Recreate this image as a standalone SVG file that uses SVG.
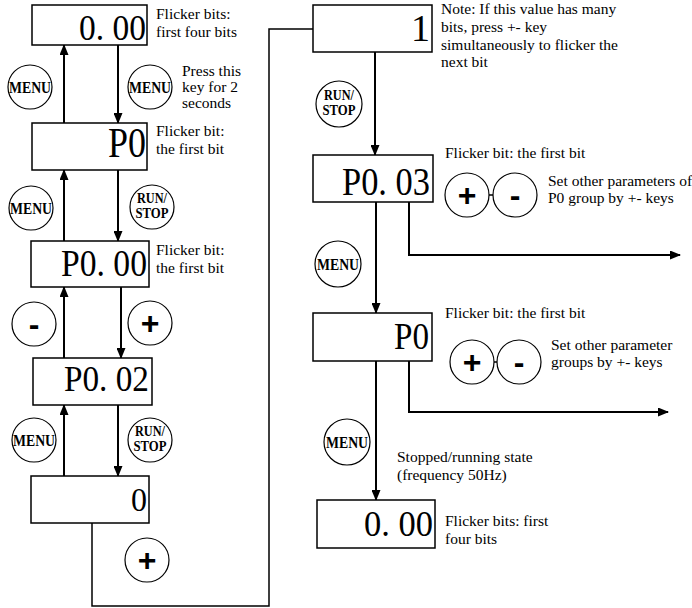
<svg xmlns="http://www.w3.org/2000/svg" width="692" height="608" viewBox="0 0 692 608">
<style>
.box{fill:#fff;stroke:#000;stroke-width:1.5}
.disp{font-family:"Liberation Serif",serif;text-anchor:end;fill:#000}
.lbl{font-family:"Liberation Serif",serif;font-size:15.5px;fill:#000}
.key circle{fill:#fff;stroke:#000;stroke-width:1.2}
.kt{font-family:"Liberation Serif",serif;font-weight:bold;text-anchor:middle;fill:#000}
.pm{font-family:"Liberation Sans",sans-serif;font-weight:bold;font-size:32px;text-anchor:middle;fill:#000}
.ar{fill:none;stroke:#000;stroke-width:2;marker-end:url(#ah)}
.ln{fill:none;stroke:#000;stroke-width:1.5}
</style>
<defs>
<marker id="ah" markerUnits="userSpaceOnUse" markerWidth="11" markerHeight="9" refX="10" refY="4.5" orient="auto">
<path d="M0,0 L11,4.5 L0,9 z" fill="#000"/>
</marker>
</defs>
<g id="connectors">
<line class="ar" x1="64" y1="123" x2="64" y2="45"/>
<line class="ar" x1="118" y1="45" x2="118" y2="123"/>
<line class="ar" x1="64" y1="241" x2="64" y2="170"/>
<line class="ar" x1="118" y1="170" x2="118" y2="241"/>
<line class="ar" x1="64" y1="358" x2="64" y2="287"/>
<line class="ar" x1="121" y1="287" x2="121" y2="358"/>
<line class="ar" x1="64" y1="476" x2="64" y2="405"/>
<line class="ar" x1="118" y1="405" x2="118" y2="476"/>
<polyline class="ln" points="92,523 92,606 269,606 269,29 313,29"/>
<line class="ar" x1="375" y1="52" x2="375" y2="155"/>
<line class="ar" x1="376" y1="202" x2="376" y2="313"/>
<polyline class="ar" points="409,202 409,255 680,255"/>
<line class="ar" x1="376" y1="361" x2="376" y2="500"/>
<polyline class="ar" points="409,361 409,412 668,412"/>
<line class="ln" x1="489" y1="195" x2="493" y2="195"/>
<line class="ln" x1="494" y1="362" x2="497" y2="362"/>
</g>
<g id="n1"><rect class="box" x="32" y="5" width="115" height="40"/><text class="disp" x="146" y="40" font-size="35" textLength="67" lengthAdjust="spacingAndGlyphs">0. 00</text></g>
<g id="n2"><rect class="box" x="32" y="123" width="115" height="47"/><text class="disp" x="146" y="157" font-size="42" textLength="38" lengthAdjust="spacingAndGlyphs">P0</text></g>
<g id="n3"><rect class="box" x="31" y="241" width="118" height="46"/><text class="disp" x="147" y="276" font-size="38" textLength="86" lengthAdjust="spacingAndGlyphs">P0. 00</text></g>
<g id="n4"><rect class="box" x="33" y="358" width="119" height="47"/><text class="disp" x="149" y="391" font-size="36" textLength="85" lengthAdjust="spacingAndGlyphs">P0. 02</text></g>
<g id="n5"><rect class="box" x="31" y="476" width="118" height="47"/><text class="disp" x="147" y="511" font-size="34" textLength="16" lengthAdjust="spacingAndGlyphs">0</text></g>
<g id="n6"><rect class="box" x="313" y="5" width="119" height="47"/><text class="disp" x="430" y="41" font-size="38">1</text></g>
<g id="n7"><rect class="box" x="313" y="155" width="120" height="47"/><text class="disp" x="430" y="195" font-size="40" textLength="88" lengthAdjust="spacingAndGlyphs">P0. 03</text></g>
<g id="n8"><rect class="box" x="313" y="313" width="119" height="48"/><text class="disp" x="429" y="349" font-size="38" textLength="35" lengthAdjust="spacingAndGlyphs">P0</text></g>
<g id="n9"><rect class="box" x="317" y="500" width="118" height="48"/><text class="disp" x="433" y="536" font-size="35" textLength="69" lengthAdjust="spacingAndGlyphs">0. 00</text></g>
<g id="keys">
<g class="key" id="k1"><circle cx="30" cy="87" r="22"/><text class="kt" x="30" y="93" font-size="16" textLength="42" lengthAdjust="spacingAndGlyphs">MENU</text></g>
<g class="key" id="k2"><circle cx="150" cy="87" r="22"/><text class="kt" x="150" y="93" font-size="16" textLength="42" lengthAdjust="spacingAndGlyphs">MENU</text></g>
<g class="key" id="k3"><circle cx="31" cy="208" r="22"/><text class="kt" x="31" y="214" font-size="16" textLength="42" lengthAdjust="spacingAndGlyphs">MENU</text></g>
<g class="key" id="k4"><circle cx="152" cy="207" r="22"/><text class="kt" x="152" y="203" font-size="15" textLength="30" lengthAdjust="spacingAndGlyphs">RUN/</text><text class="kt" x="152" y="218" font-size="15" textLength="33" lengthAdjust="spacingAndGlyphs">STOP</text></g>
<g class="key" id="k5"><circle cx="34" cy="324" r="22"/><text class="pm" x="34" y="335">-</text></g>
<g class="key" id="k6"><circle cx="150" cy="323" r="22"/><text class="pm" x="150" y="334">+</text></g>
<g class="key" id="k7"><circle cx="34" cy="440" r="22"/><text class="kt" x="34" y="446" font-size="16" textLength="42" lengthAdjust="spacingAndGlyphs">MENU</text></g>
<g class="key" id="k8"><circle cx="150" cy="440" r="22"/><text class="kt" x="150" y="436" font-size="15" textLength="30" lengthAdjust="spacingAndGlyphs">RUN/</text><text class="kt" x="150" y="451" font-size="15" textLength="33" lengthAdjust="spacingAndGlyphs">STOP</text></g>
<g class="key" id="k9"><circle cx="147" cy="560" r="22"/><text class="pm" x="147" y="571">+</text></g>
<g class="key" id="k10"><circle cx="339" cy="104" r="23"/><text class="kt" x="339" y="100" font-size="15" textLength="30" lengthAdjust="spacingAndGlyphs">RUN/</text><text class="kt" x="339" y="115" font-size="15" textLength="33" lengthAdjust="spacingAndGlyphs">STOP</text></g>
<g class="key" id="k11"><circle cx="467" cy="195" r="22"/><text class="pm" x="467" y="206">+</text></g>
<g class="key" id="k12"><circle cx="515" cy="195" r="22"/><text class="pm" x="515" y="206">-</text></g>
<g class="key" id="k13"><circle cx="338" cy="264" r="23"/><text class="kt" x="338" y="270" font-size="16" textLength="42" lengthAdjust="spacingAndGlyphs">MENU</text></g>
<g class="key" id="k14"><circle cx="472" cy="362" r="22"/><text class="pm" x="472" y="373">+</text></g>
<g class="key" id="k15"><circle cx="519" cy="362" r="22"/><text class="pm" x="519" y="373">-</text></g>
<g class="key" id="k16"><circle cx="347" cy="442" r="23"/><text class="kt" x="347" y="448" font-size="16" textLength="42" lengthAdjust="spacingAndGlyphs">MENU</text></g>
</g>
<g id="labels">
<text class="lbl" x="156" y="19">Flicker bits:</text>
<text class="lbl" x="156" y="37">first four bits</text>
<text class="lbl" x="182" y="76">Press this</text>
<text class="lbl" x="182" y="92">key for 2</text>
<text class="lbl" x="182" y="108">seconds</text>
<text class="lbl" x="156" y="136">Flicker bit:</text>
<text class="lbl" x="156" y="154">the first bit</text>
<text class="lbl" x="156" y="255">Flicker bit:</text>
<text class="lbl" x="156" y="273">the first bit</text>
<text class="lbl" x="441" y="14">Note: If this value has many</text>
<text class="lbl" x="441" y="32">bits, press +- key</text>
<text class="lbl" x="441" y="50">simultaneously to flicker the</text>
<text class="lbl" x="441" y="67">next bit</text>
<text class="lbl" x="445" y="158">Flicker bit: the first bit</text>
<text class="lbl" x="548" y="186">Set other parameters of</text>
<text class="lbl" x="548" y="203">P0 group by +- keys</text>
<text class="lbl" x="445" y="318">Flicker bit: the first bit</text>
<text class="lbl" x="551" y="350">Set other parameter</text>
<text class="lbl" x="551" y="367">groups by +- keys</text>
<text class="lbl" x="397" y="462">Stopped/running state</text>
<text class="lbl" x="397" y="480">(frequency 50Hz)</text>
<text class="lbl" x="445" y="526">Flicker bits: first</text>
<text class="lbl" x="445" y="544">four bits</text>
</g>
</svg>
